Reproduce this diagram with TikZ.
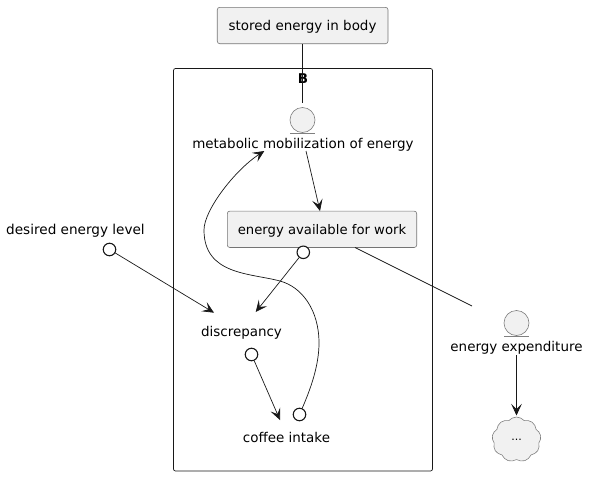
\documentclass[tikz,border=0pt]{standalone}
\usepackage{fontspec}
\setmainfont{DejaVu Sans}
\usetikzlibrary{arrows.meta,shapes.symbols}
\definecolor{umlfill}{HTML}{F1F1F1}
\definecolor{umlline}{HTML}{181818}
\newcommand{\umlfont}{\fontsize{13.45}{16}\selectfont}
\tikzset{
  lbl/.style={inner sep=0pt,anchor=base,font=\umlfont,text=black},
  rectbox/.style={draw=umlline!60,fill=umlfill,line width=0.6pt,rounded corners=2.5pt,minimum height=36.4pt,inner sep=0pt},
  entitycircle/.style={circle,draw=umlline!55,fill=umlfill,line width=0.6pt,minimum size=25pt,inner sep=0pt},
  lolli/.style={circle,draw=umlline,fill=white,line width=1.1pt,minimum size=12.5pt,inner sep=0pt},
  conn/.style={draw=umlline,line width=0.7pt},
  arr/.style={conn,-{Stealth[length=11.5pt,width=10.5pt,inset=5pt]}},
  underl/.style={draw=umlline!55,line width=0.6pt},
}
\begin{document}
\begin{tikzpicture}[x=1pt,y=-1pt]
\useasboundingbox (0,0) rectangle (590,477);
% container
\node[draw=umlline,line width=0.7pt,rounded corners=2pt,minimum width=259pt,minimum height=402.5pt,inner sep=0pt] (container) at (303,269.75) {};
\node[lbl,font=\umlfont\bfseries] (blabel) at (303,83) {B};
% boxes
\node[rectbox,minimum width=170.7pt] (stored) at (302.6,25.5) {};
\node[lbl] (storedtext) at (302.6,30.7) {stored energy in body};
\node[rectbox,minimum width=189.4pt] (avail) at (322,229.3) {};
\node[lbl,font=\fontsize{13.2}{16}\selectfont] (availtext) at (322,234) {energy available for work};
% entity circles
\node[entitycircle] (metab) at (302.5,120) {};
\coordinate (mu1) at (290,133.3); \coordinate (mu2) at (315,133.3);
\draw[underl] (mu1) -- (mu2);
\node[lbl] (metablabel) at (303,148) {metabolic mobilization of energy};
\node[entitycircle] (exp) at (516.5,323) {};
\coordinate (eu1) at (504,336.3); \coordinate (eu2) at (529,336.3);
\draw[underl] (eu1) -- (eu2);
\node[lbl] (explabel) at (516.5,351.7) {energy expenditure};
% plain labels
\node[lbl,font=\fontsize{13.6}{16}\selectfont] (desired) at (75.5,234) {desired energy level};
\node[lbl] (disc) at (241.5,336) {discrepancy};
\node[lbl] (coffee) at (286.5,442.7) {coffee intake};
% lollipops
\node[lolli] (ldes) at (109.5,249.5) {};
\node[lolli] (lavail) at (303.3,252.3) {};
\node[lolli] (ldisc) at (251.5,354.5) {};
\node[lolli] (lcoffee) at (299.5,414.5) {};
% cloud
\node[cloud,cloud puffs=9,cloud puff arc=100,aspect=1.05,draw=umlline!55,fill=umlfill,line width=0.6pt,minimum width=49pt,minimum height=45pt,inner sep=0pt,font=\fontsize{11}{13}\selectfont] (dots) at (516.5,439.5) {...};
% helper coordinates for connector ends
\coordinate (metabtop) at (302.5,103);
\coordinate (exptop) at (472,306);
\coordinate (availout) at (355,247.5);
\coordinate (metabout) at (306,151);
\coordinate (availin) at (320,211);
\coordinate (discinA) at (214,312.7);
\coordinate (discinB) at (255.7,312);
\coordinate (coffeein) at (280,420);
\coordinate (metabin) at (264.3,151);
\coordinate (expout) at (516.5,355);
\coordinate (dotsin) at (516.5,415.5);
% connectors
\draw[conn] (stored.south -| metabtop) -- (metabtop);
\draw[conn] (availout) -- (exptop);
\draw[arr] (metabout) -- (availin);
\draw[arr] (ldes) -- (discinA);
\draw[arr] (lavail) -- (discinB);
\draw[arr] (ldisc) -- (coffeein);
\draw[arr] (expout) -- (dotsin);
\draw[arr] (lcoffee) .. controls (311,388) and (319,365) .. (319,343)
  .. controls (319,310) and (302,287) .. (280,281)
  .. controls (250,273) and (204,275) .. (204,230)
  .. controls (204,210) and (235,170) .. (metabin);
\end{tikzpicture}
\end{document}
